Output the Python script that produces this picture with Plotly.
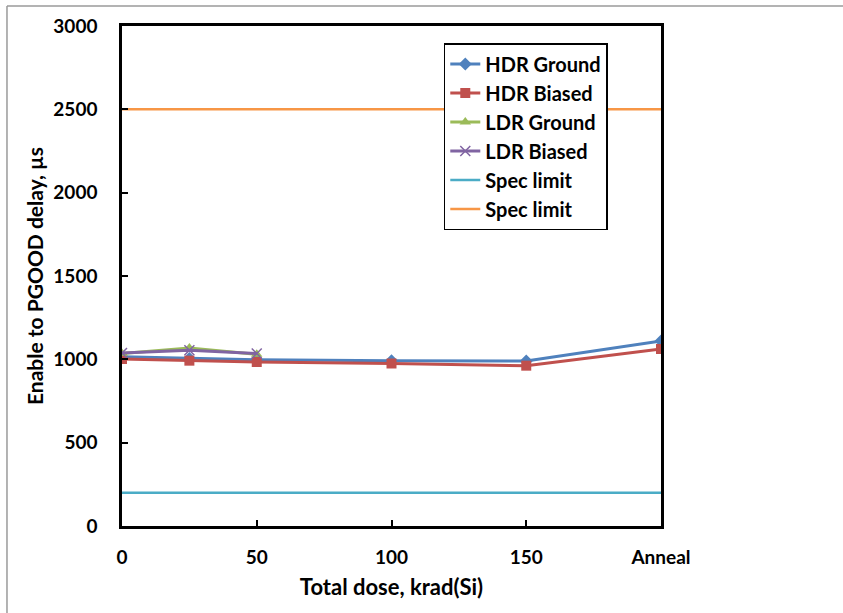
import plotly.graph_objects as go

x_hdr = [0, 25, 50, 100, 150, 200]
x_ldr = [0, 25, 50]
hdr_ground = [1015, 1005, 998, 992, 990, 1110]
hdr_biased = [1002, 992, 984, 975, 962, 1062]
ldr_ground = [1035, 1068, 1030]
ldr_biased = [1038, 1055, 1035]
spec_x = [0, 200]
spec_low = [200, 200]
spec_high = [2500, 2500]
x_tickvals = [0, 50, 100, 150, 200]
x_ticktext = ["0", "50", "100", "150", "Anneal"]
y_tickvals = [0, 500, 1000, 1500, 2000, 2500, 3000]

FONT = "Lato"
fig = go.Figure()
fig.add_trace(go.Scatter(x=x_hdr, y=hdr_ground, name="HDR Ground", mode="lines+markers",
                         line=dict(color="#4F81BD", width=3),
                         marker=dict(symbol="diamond", size=10, color="#4F81BD")))
fig.add_trace(go.Scatter(x=x_hdr, y=hdr_biased, name="HDR Biased", mode="lines+markers",
                         line=dict(color="#C0504D", width=3),
                         marker=dict(symbol="square", size=10, color="#C0504D")))
fig.add_trace(go.Scatter(x=x_ldr, y=ldr_ground, name="LDR Ground", mode="lines+markers",
                         line=dict(color="#9BBB59", width=3),
                         marker=dict(symbol="triangle-up", size=10, color="#9BBB59")))
fig.add_trace(go.Scatter(x=x_ldr, y=ldr_biased, name="LDR Biased", mode="lines+markers",
                         line=dict(color="#8064A2", width=3),
                         marker=dict(symbol="x-thin", size=10, color="#8064A2",
                                     line=dict(color="#8064A2", width=1.5))))
fig.add_trace(go.Scatter(x=spec_x, y=spec_low, name="Spec limit", mode="lines",
                         line=dict(color="#4BACC6", width=2.5)))
fig.add_trace(go.Scatter(x=spec_x, y=spec_high, name="Spec limit", mode="lines",
                         line=dict(color="#F79646", width=2.5)))

fig.update_layout(
    width=843, height=613,
    margin=dict(l=122, r=182, t=26, b=87),
    paper_bgcolor="white", plot_bgcolor="white",
    font=dict(family=FONT, size=19, color="black", weight="bold"),
    showlegend=True,
    legend=dict(x=0.597, y=0.966, xanchor="left", yanchor="top",
                bordercolor="black", borderwidth=1.5, bgcolor="white",
                font=dict(family=FONT, size=20, weight="bold"),
                tracegroupgap=0, itemwidth=30),
    xaxis=dict(range=[0, 200], tickvals=x_tickvals, ticktext=x_ticktext,
               ticks="inside", ticklen=6, tickwidth=2, tickcolor="black",
               showline=True, linecolor="black", linewidth=2.5, mirror=True,
               showgrid=False, zeroline=False, ticklabelstandoff=12,
               title=dict(text="Total dose, krad(Si)", standoff=14,
                          font=dict(family=FONT, size=22, weight="bold"))),
    yaxis=dict(range=[0, 3000], tickvals=y_tickvals,
               ticks="inside", ticklen=6, tickwidth=2, tickcolor="black",
               showline=True, linecolor="black", linewidth=2.5, mirror=True,
               showgrid=False, zeroline=False, ticklabelstandoff=18,
               title=dict(text="Enable to PGOOD delay, µs", standoff=5,
                          font=dict(family=FONT, size=21, weight="bold"))),
    shapes=[
        dict(type="line", xref="paper", yref="paper", x0=-0.2134, x1=1.4, y0=1.04, y1=1.04,
             line=dict(color="#9a9a9a", width=1.5)),
        dict(type="line", xref="paper", yref="paper", x0=-0.2134, x1=-0.2134, y0=-0.2, y1=1.04,
             line=dict(color="#9a9a9a", width=1.5)),
    ],
)

fig.write_html("out.html")
